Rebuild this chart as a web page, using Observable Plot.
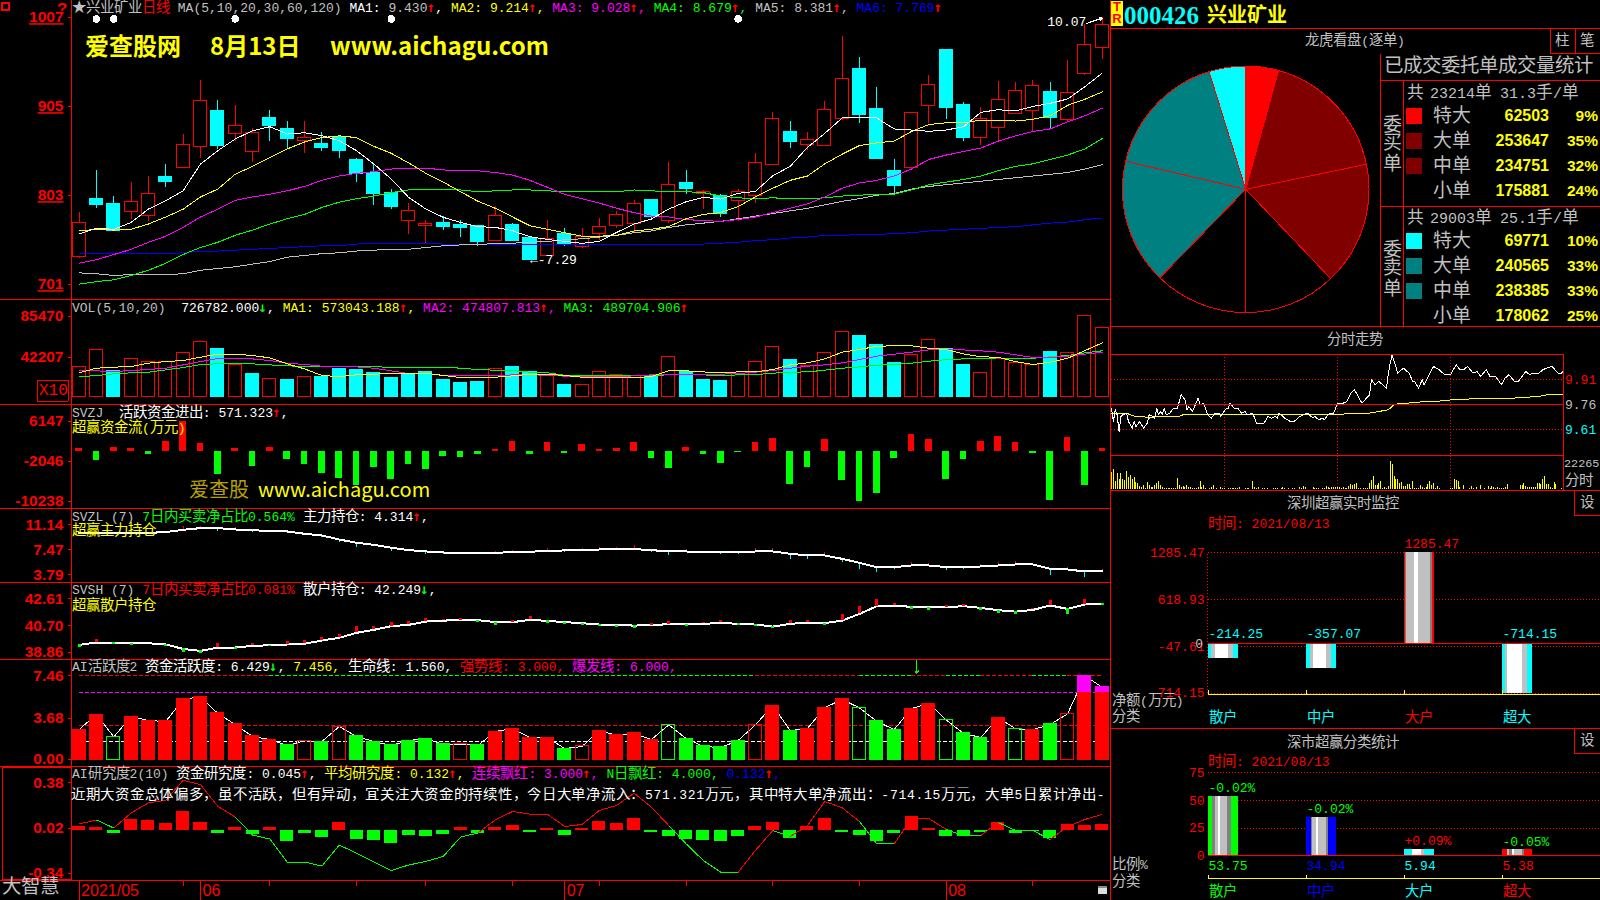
<!DOCTYPE html>
<html lang="zh">
<head>
<meta charset="utf-8">
<style>
@font-face{font-family:"CJKA";src:local("Noto Sans CJK SC"),local("Noto Sans CJK SC Regular");unicode-range:U+2605,U+2E80-9FFF,U+3000-303F,U+FF00-FFEF;size-adjust:111%}
html,body{margin:0;padding:0;background:#000;width:1600px;height:900px;overflow:hidden}
#stage{position:relative;width:1600px;height:900px;background:#000;overflow:hidden;font:13px "CJKA","Liberation Mono",monospace}
#stage svg{position:absolute;overflow:visible}
#stage svg *{shape-rendering:crispEdges}
.t{position:absolute;white-space:nowrap;line-height:1;transform:translateY(-50%);font-family:"CJKA","Liberation Mono",monospace}
.l{position:absolute;background:#f00}
.main g[aria-label="y-axis tick label"] text{text-decoration:underline;font:bold 15.5px "Liberation Sans"}
.lp g[aria-label="y-axis tick label"] text{font:bold 15.5px "Liberation Sans"}
.arw{display:inline-block;width:7.8px;margin-left:-1px;margin-right:1px;font:bold 14px/0 "DejaVu Sans Mono",monospace}
</style>
<script src="https://cdn.jsdelivr.net/npm/d3@7"></script>
<script src="https://cdn.jsdelivr.net/npm/@observablehq/plot@0.6"></script>
</head>
<body>
<div id="stage"></div>
<script>
// ---------- daily candles ----------
const opens =[7.32,7.99,7.93,7.84,7.79,8.24,8.34,8.58,9.00,8.73,8.53,8.91,8.79,8.65,8.62,8.70,8.43,8.29,8.05,7.74,7.68,7.71,7.69,7.68,7.51,7.69,7.54,7.33,7.59,7.44,7.59,7.68,7.70,7.97,7.73,8.17,8.04,8.02,7.96,8.02,8.38,8.75,8.61,8.59,8.90,9.48,9.02,8.31,8.34,9.05,9.69,9.06,8.68,8.80,8.96,8.99,9.21,8.89,9.42,9.72];
const highs =[7.83,8.31,8.01,8.18,8.25,8.38,8.72,9.34,9.11,9.06,8.80,9.00,8.88,8.87,8.75,8.71,8.45,8.38,8.10,7.93,7.74,7.79,7.74,7.68,7.90,7.70,7.55,7.74,7.65,7.65,7.76,7.84,7.97,7.98,8.41,8.31,8.08,8.04,8.10,8.51,8.98,8.88,8.75,9.10,9.85,9.61,9.27,8.44,8.97,9.40,9.69,9.09,9.04,9.33,9.32,9.35,9.32,9.57,9.99,10.07];
const lows  =[7.31,7.88,7.61,7.75,7.73,8.12,8.34,8.45,8.55,8.65,8.41,8.65,8.57,8.51,8.53,8.45,8.17,7.91,7.87,7.58,7.47,7.62,7.55,7.44,7.50,7.50,7.29,7.33,7.44,7.42,7.51,7.65,7.60,7.74,7.70,8.04,7.87,7.77,7.73,7.94,8.38,8.56,8.54,8.59,8.89,8.85,8.44,8.04,8.34,8.85,8.90,8.64,8.60,8.64,8.96,8.76,8.79,8.88,9.40,9.58];
const closes=[7.71,7.92,7.62,7.95,8.04,8.18,8.61,9.11,8.59,8.82,8.74,8.82,8.67,8.69,8.57,8.54,8.27,8.04,7.89,7.85,7.70,7.67,7.65,7.49,7.79,7.51,7.29,7.53,7.46,7.55,7.66,7.80,7.93,7.78,8.15,8.10,8.07,7.82,8.07,8.40,8.90,8.64,8.66,9.01,9.36,8.95,8.45,8.14,8.97,9.29,9.03,8.69,8.90,9.12,9.22,9.28,8.92,9.20,9.75,9.98];
const ma5  =[7.585,7.653,7.638,7.718,7.871,7.967,8.081,8.387,8.54,8.674,8.769,8.815,8.731,8.746,8.712,8.655,8.54,8.387,8.215,8.005,7.871,7.776,7.718,7.669,7.661,7.623,7.554,7.523,7.501,7.478,7.501,7.604,7.699,7.757,7.871,7.955,8.005,7.986,8.051,8.074,8.253,8.36,8.578,8.739,8.915,8.922,8.915,8.789,8.777,8.762,8.777,8.815,8.98,9.01,8.995,9.048,9.083,9.133,9.274,9.43];
const ma10 =[7.62,7.64,7.63,7.64,7.70,7.78,7.87,8.01,8.10,8.27,8.36,8.46,8.56,8.64,8.69,8.71,8.69,8.59,8.51,8.40,8.28,8.18,8.07,7.96,7.88,7.78,7.68,7.64,7.60,7.56,7.56,7.57,7.62,7.64,7.67,7.76,7.81,7.83,7.90,8.01,8.11,8.20,8.25,8.39,8.50,8.60,8.63,8.65,8.76,8.84,8.86,8.86,8.89,8.89,8.88,8.90,8.94,9.06,9.13,9.214];
const ma20 =[7.25,7.29,7.35,7.41,7.49,7.56,7.66,7.78,7.87,7.97,8.01,8.04,8.08,8.13,8.20,8.25,8.28,8.30,8.33,8.34,8.34,8.32,8.31,8.31,8.29,8.26,8.20,8.12,8.04,7.99,7.94,7.88,7.83,7.79,7.78,7.75,7.74,7.73,7.75,7.78,7.83,7.88,7.93,8.01,8.11,8.17,8.20,8.25,8.33,8.44,8.49,8.53,8.57,8.65,8.71,8.76,8.79,8.87,8.94,9.028];
const ma30 =[7.01,7.04,7.06,7.11,7.17,7.25,7.35,7.43,7.49,7.57,7.63,7.70,7.76,7.81,7.89,7.95,7.99,8.02,8.06,8.09,8.10,8.10,8.09,8.07,8.08,8.09,8.09,8.08,8.07,8.07,8.07,8.07,8.09,8.08,8.07,8.07,8.06,8.02,8.00,7.99,8.00,7.99,7.99,8.00,8.02,8.03,8.04,8.04,8.09,8.15,8.18,8.21,8.25,8.31,8.36,8.39,8.44,8.49,8.56,8.679];
const ma60 =[7.14,7.13,7.11,7.12,7.12,7.12,7.13,7.17,7.19,7.21,7.24,7.27,7.32,7.34,7.36,7.37,7.39,7.40,7.41,7.41,7.43,7.45,7.46,7.46,7.48,7.48,7.49,7.50,7.52,7.53,7.55,7.57,7.60,7.62,7.66,7.69,7.71,7.73,7.76,7.79,7.82,7.85,7.88,7.92,7.96,7.99,8.03,8.05,8.10,8.13,8.15,8.17,8.19,8.21,8.23,8.25,8.27,8.29,8.33,8.381];
const ma120=[7.36,7.36,7.36,7.36,7.36,7.36,7.37,7.39,7.39,7.40,7.41,7.42,7.43,7.44,7.45,7.45,7.47,7.48,7.48,7.48,7.48,7.47,7.47,7.47,7.47,7.47,7.47,7.46,7.46,7.46,7.46,7.46,7.46,7.46,7.46,7.47,7.47,7.48,7.49,7.51,7.52,7.54,7.55,7.57,7.57,7.58,7.58,7.59,7.60,7.62,7.63,7.64,7.65,7.66,7.67,7.69,7.71,7.72,7.75,7.769];
const eventBars=[1,2,9,18,38];
const eventPrice=10.05;
// ---------- volume (x10) ----------
const vol=[32000,49940,28140,40450,36930,37630,46780,58380,51350,34110,24970,19340,18640,21450,21100,30250,29190,25670,20750,23560,27080,18640,15470,16530,29890,32360,26380,23920,13360,13010,26730,23560,22860,22860,42560,27080,18640,17590,24970,37280,53110,39740,32710,46780,68930,65060,55570,36580,44670,60490,51000,34470,25670,40450,36230,34470,48180,46780,85470,72678];
const volColor="RRCRRRRRCRCRCRCCCCCCCCCCRCCRCRRRRCRCCCRRRCRRRCCCRRCCRRRRCRRR";
const vma5=[25700,30600,31700,32400,35900,37600,38700,42200,45400,45400,44000,41500,35200,29900,22900,21800,23600,24300,25000,25300,25300,22900,20800,20400,21100,22500,24300,24300,22900,21100,20800,20800,20400,21800,27800,27800,26700,25700,26700,26700,29200,34100,36200,40400,47500,50300,53800,54200,54200,51700,50300,45700,42600,42200,37600,34500,36900,41100,49200,57304];
const vma10=[28500,27800,27100,28100,29200,30600,34100,37600,40800,40800,40400,38700,35900,34500,32700,32700,32000,30600,27800,25000,25300,22900,22500,22900,22500,23600,23600,23200,22200,21500,21500,21800,22500,23600,24300,24300,24300,24300,25000,26400,28100,30600,32700,34100,36200,39700,43300,45400,47500,49900,50300,49900,48900,47500,44700,41900,41900,43300,45400,47481];
const vma20=[21500,22900,24600,25700,26400,28800,31300,34500,35200,35200,35200,34100,33100,32400,32000,32400,32700,32000,31700,31700,31700,31700,30600,29200,28500,28100,26400,25700,23200,22500,22500,22500,22500,22900,23600,23600,23600,22500,23600,23900,25300,26400,26700,28500,30600,32000,33800,34500,35900,38000,39700,40400,40400,41500,40400,41100,42600,44000,46800,48970];
// ---------- SVZJ ----------
const flow=[480,-1980,820,610,-610,2050,6147,1640,-4710,610,-3070,820,-1640,-2660,-4510,-5530,-6970,-3280,-5740,-2660,-3690,-1020,-1230,-610,410,2050,-610,1840,-410,1430,410,610,1840,-1430,-3480,820,-610,-2460,-205,1840,2660,-6760,-3280,2460,-5940,-10238,-8600,-1430,3480,2460,-5740,-1640,2050,3070,1840,-410,-10040,2870,-6970,571];
// ---------- SVZL / SVSH ----------
const svzl=[9.96,9.96,9.96,9.96,9.96,10.06,10.41,10.65,10.65,10.45,10.36,10.21,10.16,9.82,9.57,8.98,8.49,8.20,7.76,7.42,7.22,7.07,7.02,7.02,7.02,7.12,7.17,7.32,7.37,7.37,7.51,7.51,7.56,7.42,7.22,7.22,7.12,7.07,7.07,7.22,7.22,6.88,6.63,6.63,6.14,5.55,4.92,4.92,5.16,5.16,4.92,4.87,5.02,5.16,5.31,5.31,4.67,4.57,4.28,4.314];
const svzlDelta=[0,0,0,0,0,0,.5,.3,-.5,.3,-.3,0,0,-.3,-.3,-.5,-.7,-.3,-.5,-.2,-.5,-.3,-.3,-.3,.2,.3,-.3,.3,-.3,.3,.3,.3,.5,-.3,-.6,.3,0,-.3,-.3,.4,.5,-.8,-.6,.5,-.5,-1,-.8,-.3,.5,.3,-.5,-.3,.3,.5,.5,0,-1,.3,-.9,.2];
const svsh=[39.37,39.54,39.54,39.49,39.49,39.40,39.09,38.95,39.19,39.19,39.30,39.35,39.40,39.45,39.68,39.87,40.22,40.43,40.69,40.78,41.01,41.08,41.11,41.11,40.97,40.97,41.13,41.06,40.97,40.90,40.80,40.76,40.73,40.76,40.83,40.83,40.85,40.92,40.85,40.80,40.66,40.85,40.94,40.90,41.08,41.55,42.09,42.14,42.04,42.02,42.02,42.09,41.97,41.81,41.71,41.83,42.14,41.90,42.21,42.249];
const svshDelta=[-.15,.2,-.15,-.15,0,-.15,-.25,-.15,.25,-.15,.2,-.1,.2,.2,.2,.2,.45,.25,.25,.25,.25,.1,.1,-.15,-.2,.1,.25,-.2,-.15,-.2,-.15,-.15,-.2,.1,.2,-.2,.1,.2,-.15,-.15,-.15,.25,.15,-.15,.4,.5,.5,.15,-.15,-.2,.1,.15,-.2,-.2,-.2,.1,.35,-.4,.35,-.1];
// ---------- AI activity ----------
const active=[2.67,4.01,2.02,3.83,3.47,3.39,5.35,5.61,4.10,3.12,2.05,1.78,1.25,1.66,1.60,2.94,2.05,1.60,1.25,1.69,1.87,1.34,1.34,1.25,2.49,2.76,1.96,1.96,0.98,1.16,2.58,2.14,2.32,1.78,3.09,1.87,1.16,1.07,1.69,3.09,4.81,2.58,2.76,4.63,5.35,4.60,3.39,2.67,4.54,4.99,3.53,2.32,1.96,3.74,2.73,2.67,3.12,4.07,7.456,6.429];
const activeColor="RRGRRRRRRRRRGRGRGGGGGGRGRRRRGRRRRRGGGGGRRGRRRGGGRRGGGRGRGRRR";
const activeHollow=[2,13,15,22,29,34,39,45,50,54,57];
const topSegStart=[0,11,39,45,48,50,52,55,57];
const topSegEnd=[11,39,45,48,50,52,55,57,59];
const topSegColor=["#f00","#0f0","#f00","#0f0","#f00","#0f0","#f00","#0f0","#f00"];
const activeLevels=[6,3,1.56];
const activeLevelColors=["#f0f","#f00","#fff"];
// ---------- AI research ----------
const research=[.032,.024,-.024,.088,.080,.056,.151,.064,-.024,.024,-.032,.024,-.088,-.024,-.056,.064,-.072,-.080,-.104,-.040,-.048,-.032,.024,-.024,.024,.040,-.016,.016,-.040,.016,.072,.056,.096,-.016,-.048,-.072,-.080,-.088,-.048,.032,.064,-.064,.032,.096,-.016,-.040,-.088,-.024,.112,.016,-.048,-.048,-.016,.064,-.024,-.008,-.064,.048,.040,.045];
const researchAvg=[.052,.084,.02,.140,.220,.241,.400,.365,.193,.108,-.036,-.068,-.251,-.251,-.283,-.116,-.180,-.251,-.318,-.275,-.246,-.206,-.052,-.02,.085,.152,.130,.130,.032,.048,.160,.200,.298,.186,.040,-.106,-.239,-.332,-.332,-.159,0,-.048,.040,.231,.181,.072,-.106,-.106,.096,.096,.008,-.040,-.040,.064,0,0,-.072,.032,.088,.128];
const researchAvgColor="RRGRRRRRRRGGGGGGGGGGGGGGRRRRRRRRRRRGGGGRRGRRRRGGRRRGGRGGGRRR";
const monthBars=[0,7,28,50];
const monthLabels=["2021/05","06","07","08"];
const weekBars=[6,11,16,20,25,30,35,40,45,55];
// ---------- pie ----------
const buyNames=["特大","大单","中单","小单"];
const buyVals=[62503,253647,234751,175881];
const buyPct=["9%","35%","32%","24%"];
const buyColors=["#f00","#800000","#800000","#000"];
const sellVals=[69771,240565,238385,178062];
const sellPct=["10%","33%","33%","25%"];
const sellColors=["#0ff","#008080","#008080","#000"];
// ---------- intraday ----------
const intraMin=[0,1,2,3,4,5,6,8,9,11,12,13,15,17,19,20,22,23,24,25,26,27,28,29,31,33,35,37,39,40,41,43,46,47,49,51,53,55,57,58,61,62,63,65,67,69,71,72,75,77,81,83,85,87,88,89,92,95,97,100,104,107,108,110,112,113,115,116,118,119,120,123,125,127,129,131,133,137,138,140,142,146,147,148,149,152,155,158,160,161,163,165,166,169,171,174,177,180,183,185,187,189,192,194,196,199,201,204,207,209,211,214,216,220,222,224,227,229,231,234,237,239,240];
const intraPrice=[9.74,9.66,9.73,9.70,9.60,9.69,9.70,9.71,9.66,9.62,9.66,9.63,9.66,9.62,9.65,9.70,9.69,9.68,9.74,9.70,9.72,9.70,9.74,9.70,9.71,9.74,9.74,9.82,9.79,9.73,9.75,9.72,9.80,9.76,9.77,9.70,9.68,9.71,9.71,9.69,9.74,9.74,9.77,9.74,9.74,9.71,9.72,9.70,9.71,9.65,9.65,9.69,9.68,9.69,9.68,9.71,9.68,9.66,9.66,9.69,9.71,9.68,9.69,9.67,9.68,9.67,9.70,9.71,9.71,9.74,9.77,9.77,9.78,9.83,9.85,9.81,9.77,9.82,9.91,9.88,9.90,9.86,9.95,10.01,10.06,9.95,9.98,9.95,9.90,9.90,9.86,9.91,9.88,9.95,9.99,9.97,9.94,9.94,10.00,9.97,9.97,9.99,9.95,9.96,9.93,9.97,9.93,9.93,9.88,9.92,9.94,9.90,9.90,9.96,9.94,9.95,9.95,9.97,9.98,9.99,9.95,9.95,9.97];
const avgMin=[0,8,10,13,17,20,23,36,38,119,128,137,142,147,150,153,157,167,172,181,184,196,213,227,231,240];
const avgPrice=[9.71,9.71,9.70,9.69,9.69,9.68,9.69,9.69,9.70,9.70,9.71,9.71,9.72,9.73,9.76,9.77,9.77,9.78,9.78,9.79,9.79,9.80,9.80,9.81,9.82,9.82];
const intraVol=[114,132,53,103,70,103,66,59,121,77,95,66,79,48,44,20,18,31,9,48,31,18,18,26,44,55,26,15,11,7,7,7,7,11,7,73,26,18,22,18,26,13,15,9,7,9,13,57,13,26,11,2,7,13,26,4,7,2,18,9,9,4,7,7,7,9,7,7,13,2,4,7,9,9,4,55,18,7,13,4,7,7,4,7,4,4,7,11,7,2,11,13,7,4,7,2,7,7,2,4,18,9,22,13,2,2,0,18,7,9,7,4,7,7,20,15,7,13,15,18,
15,18,9,15,7,9,20,35,31,35,40,11,7,4,11,7,9,40,62,84,31,31,44,57,9,18,7,22,185,163,88,66,66,44,48,22,22,33,33,11,55,7,9,11,26,15,11,18,35,55,31,44,11,22,9,4,4,4,4,4,7,7,70,62,57,13,4,26,4,4,11,22,9,4,18,2,26,4,9,4,22,9,22,18,7,18,7,9,7,15,35,2,4,0,4,4,4,26,31,44,22,13,18,18,18,15,44,44,35,70,84,35,35,15,7,48,35,4,4,9,48];
const intraTicks=[9.91,9.61];
const intraHours=[60,120,180];
// ---------- SZ monitors ----------
const catsA=["散户","中户","大户","超大"];
const netVals=[-214.25,-357.07,1285.47,-714.15];
const netTicks=[1285.47,618.93,-47.61,-714.15];
const netCatColors=["#0ff","#0ff","#f00","#0ff"];
const netValColors=["#0ff","#0ff","#f00","#0ff"];
const netStripes=[
 [[0,8,"#0ff"],[8,21,"#c0c0c0"],[21,61,"#fff"],[61,76,"#c0c0c0"],[76,90,"#0ff"]],
 [[0,12,"#0ff"],[12,22,"#c0c0c0"],[22,60,"#fff"],[60,76,"#c0c0c0"],[76,90,"#0ff"]],
 [[0,3,"#f00"],[3,6,"#808080"],[6,30,"#c0c0c0"],[30,42,"#fff"],[42,78,"#c0c0c0"],[78,84,"#808080"],[84,90,"#f00"]],
 [[0,8,"#0ff"],[8,16,"#c0c0c0"],[16,60,"#fff"],[60,74,"#c0c0c0"],[74,90,"#0ff"]]];
const ratioVals=[53.75,34.94,5.94,5.38];
const ratioTicks=[75,50,25,0];
const ratioChange=["-0.02%","-0.02%","+0.09%","-0.05%"];
const ratioChangeColors=["#0f0","#0f0","#f00","#0f0"];
const ratioColors=["#0f0","#00f","#0ff","#f00"];
const ratioStripes=[
 [[0,12,"#0f0"],[12,21,"#808080"],[21,30,"#c0c0c0"],[30,36,"#fff"],[36,57,"#c0c0c0"],[57,69,"#808080"],[69,90,"#0f0"]],
 [[0,15,"#00f"],[15,18,"#808080"],[18,30,"#c0c0c0"],[30,36,"#fff"],[36,60,"#c0c0c0"],[60,66,"#808080"],[66,90,"#00f"]],
 [[0,24,"#0ff"],[24,51,"#fff"],[51,60,"#c0c0c0"],[60,90,"#0ff"]],
 [[0,15,"#f00"],[15,21,"#c0c0c0"],[21,30,"#808080"],[30,36,"#fff"],[36,60,"#c0c0c0"],[60,66,"#808080"],[66,90,"#f00"]]];
const commentary="近期大资金总体偏多\uFF0C虽不活跃\uFF0C但有异动\uFF0C宜关注大资金的持续性\uFF0C今日大单净流入\uFF1A571.321万元\uFF0C其中特大单净流出\uFF1A-714.15万元\uFF0C大单5日累计净出-";

// ---------- helpers ----------
const FONT='"CJKA","Liberation Mono",monospace';
const stage=document.getElementById("stage");
const G="#c0c0c0",R="#f00",W="#fff",Y="#ff0",M="#f0f",L="#0f0",B="#00f",C="#0ff";
function place(opts,left,top){
  const el=Plot.plot(Object.assign({marginLeft:0,marginRight:0,marginTop:0,marginBottom:0,color:{type:"identity"},
    style:{background:"transparent",fontFamily:FONT,fontSize:"14.5px",overflow:"visible"}},opts));
  el.style.left=left+"px";el.style.top=top+"px";
  stage.appendChild(el);return el;
}
function txt(x,y,segs,o={}){
  const d=document.createElement("div");d.className="t";
  d.style.left=x+"px";d.style.top=y+"px";
  if(o.size)d.style.fontSize=o.size+"px";
  if(o.bold)d.style.fontWeight="bold";
  if(o.font)d.style.fontFamily=o.font;
  if(o.center)d.style.transform="translate(-50%,-50%)";
  if(o.right)d.style.transform="translate(-100%,-50%)";
  if(o.spacing)d.style.letterSpacing=o.spacing+"px";
  if(o.clip){d.style.width=o.clip+"px";d.style.overflow="hidden";d.style.lineHeight="1.3";}
  if(typeof segs==="string")segs=[[segs,o.color||G]];
  for(const [t,c] of segs){
    const s=document.createElement("span");s.textContent=t;s.style.color=c;s.style.whiteSpace="pre";
    if(t==="↑"||t==="↓")s.className="arw";
    d.appendChild(s);
  }
  stage.appendChild(d);return d;
}
function hl(x1,x2,y,c,th){const d=document.createElement("div");d.className="l";d.style.cssText+=`left:${x1}px;top:${y}px;width:${x2-x1}px;height:${th||1}px;${c?"background:"+c:""}`;stage.appendChild(d);}
function vl(x,y1,y2,c,th){const d=document.createElement("div");d.className="l";d.style.cssText+=`left:${x}px;top:${y1}px;width:${th||1}px;height:${y2-y1}px;${c?"background:"+c:""}`;stage.appendChild(d);}

const HALF=.375, WFLOW=.19;
const rows=opens.map((o,i)=>({i,o,h:highs[i],l:lows[i],c:closes[i],up:closes[i]>=o,v:vol[i],vc:volColor[i]==="R"?R:C,vup:volColor[i]==="R"}));
const upC=d=>d.up?R:C;
const XS={domain:[0,59],range:[78.6,1101.8],axis:null};
const series=a=>a.map((v,i)=>({i,v}));
const yAxis=(ticks,fmt)=>Plot.axisY({ticks,tickFormat:fmt,anchor:"left",tickSize:3,tickPadding:5,color:R,label:null,fontSize:14.5});
const f2=d=>d.toFixed(2);
const thin={x:"i",y:"v",strokeWidth:1};

// main candle panel
place({className:"main",width:1110,height:299,marginLeft:71,x:XS,y:{domain:[7.01,10.07],range:[283.7,16.7],axis:null},marks:[
  yAxis([7.01,8.03,9.05,10.07],d=>String(Math.round(d*100))),
  Plot.ruleX(rows,{x:"i",y1:"l",y2:"h",stroke:upC}),
  Plot.rect(rows,{x1:d=>d.i-HALF,x2:d=>d.i+HALF,y1:"o",y2:"c",fill:d=>d.up?"#000":C,stroke:upC}),
  Plot.line(series(ma120),{...thin,stroke:B}),
  Plot.line(series(ma60),{...thin,stroke:G}),
  Plot.line(series(ma30),{...thin,stroke:L}),
  Plot.line(series(ma20),{...thin,stroke:M}),
  Plot.line(series(ma10),{...thin,stroke:Y}),
  Plot.line(series(ma5),{...thin,stroke:W}),
  Plot.dot(eventBars,{x:d=>d,y:()=>eventPrice,r:3,fill:W,stroke:W}),
  Plot.text([{i:26,p:7.29}],{x:"i",y:"p",text:()=>"←-7.29",textAnchor:"start",dx:0,fill:W,fontSize:13}),
  Plot.text([{i:59,p:10.07}],{x:"i",y:"p",text:()=>"10.07",textAnchor:"end",dx:-16,dy:5,fill:W,fontSize:13}),
  Plot.arrow([{}],{x1:()=>58.1,x2:()=>59,y1:()=>10.0,y2:()=>10.06,stroke:W,headLength:5,strokeWidth:1}),
]},0,0);

// volume panel
place({className:"lp",width:1110,height:105,marginLeft:71,x:XS,y:{domain:[0,85470],range:[97.7,16.7],axis:null},marks:[
  yAxis([42207,85470],d=>String(d)),
  Plot.rect(rows,{x1:d=>d.i-HALF,x2:d=>d.i+HALF,y1:()=>0,y2:"v",fill:d=>d.vup?"none":C,stroke:"vc"}),
  Plot.line(series(vma20),{...thin,stroke:L}),
  Plot.line(series(vma10),{...thin,stroke:M}),
  Plot.line(series(vma5),{...thin,stroke:Y}),
]},0,299);

// SVZJ
place({className:"lp",width:1110,height:104,marginLeft:71,x:XS,y:{domain:[-10238,6147],range:[96.7,16.7],axis:null},marks:[
  yAxis([6147,-2046,-10238],d=>String(d)),
  Plot.rect(series(flow),{x1:d=>d.i-WFLOW,x2:d=>d.i+WFLOW,y1:()=>0,y2:"v",fill:d=>d.v>=0?R:L}),
]},0,404);

// SVZL
const svzlRows=svzl.map((v,i)=>({i,v,e:v+svzlDelta[i]}));
place({className:"lp",width:1110,height:74,marginLeft:71,x:XS,y:{domain:[3.79,11.14],range:[66.3,16.3],axis:null},marks:[
  yAxis([11.14,7.47,3.79],f2),
  Plot.ruleX(svzlRows,{x:"i",y1:"v",y2:"e",stroke:d=>d.e>=d.v?R:C}),
  Plot.line(svzlRows,{x:"i",y:"v",stroke:W,strokeWidth:2}),
]},0,508);

// SVSH
const svshRows=svsh.map((v,i)=>({i,v,e:v+svshDelta[i]}));
place({className:"lp",width:1110,height:77,marginLeft:71,x:XS,y:{domain:[38.86,42.61],range:[69.7,16.3],axis:null},marks:[
  yAxis([42.61,40.70,38.86],f2),
  Plot.line(svshRows,{x:"i",y:"v",stroke:W,strokeWidth:2}),
  Plot.ruleX(svshRows,{x:"i",y1:"v",y2:"e",stroke:d=>d.e>=d.v?R:L,strokeWidth:3}),
]},0,582);

// AI activity
const actRows=active.map((v,i)=>({i,v,c:activeColor[i]==="R"?R:L,hollow:activeHollow.includes(i)}));
place({className:"lp",width:1110,height:107,marginLeft:71,x:XS,y:{domain:[0,7.46],range:[100,16.3],axis:null},marks:[
  yAxis([7.46,3.68,0],f2),
  Plot.ruleY(topSegStart.map((s,k)=>({s,e:topSegEnd[k],c:topSegColor[k]})),{y:()=>7.46,x1:"s",x2:"e",stroke:"c",strokeDasharray:"4,2"}),
  Plot.ruleY(activeLevels.map((l,k)=>({l,c:activeLevelColors[k]})),{y:"l",x1:()=>0,x2:()=>59,stroke:"c",strokeDasharray:"4,2"}),
  Plot.line(actRows,{x:"i",y:"v",stroke:W,strokeWidth:1}),
  Plot.rect(actRows,{x1:d=>d.i-HALF,x2:d=>d.i+HALF,y1:()=>0,y2:d=>Math.min(d.v,6),fill:d=>d.hollow?"none":d.c,stroke:"c"}),
  Plot.rect(actRows.filter(d=>d.v>6),{x1:d=>d.i-HALF,x2:d=>d.i+HALF,y1:()=>6,y2:"v",fill:M,stroke:M}),
  Plot.arrow([{}],{x1:()=>48.3,x2:()=>48.3,y1:()=>8.9,y2:()=>7.65,stroke:L,headLength:5,strokeWidth:1}),
]},0,659);

// AI research
const resSegs=researchAvg.slice(1).map((v,k)=>({a:k,b:k+1,p:researchAvg[k],q:v,c:researchAvgColor[k+1]==="R"?R:L}));
place({className:"lp",width:1110,height:114,marginLeft:71,x:XS,y:{domain:[-.34,.38],range:[106.7,16.3],axis:null},marks:[
  yAxis([.38,.02,-.34],f2),
  Plot.rect(series(research),{x1:d=>d.i-HALF,x2:d=>d.i+HALF,y1:()=>0,y2:"v",fill:d=>d.v>=0?R:L}),
  Plot.link(resSegs,{x1:"a",x2:"b",y1:"p",y2:"q",stroke:"c",strokeWidth:1}),
]},0,766);

// date strip
place({width:1110,height:20,marginLeft:71,x:XS,y:{domain:[0,1],range:[20,0],axis:null},marks:[
  Plot.ruleX(monthBars,{x:d=>d,y1:()=>0,y2:()=>1,stroke:R}),
  Plot.ruleX(weekBars,{x:d=>d,y1:()=>.72,y2:()=>1,stroke:R}),
  Plot.text(monthBars,{x:d=>d,y:()=>.5,text:(d,k)=>monthLabels[k],textAnchor:"start",dx:2,fill:R,fontSize:16,fontFamily:"Liberation Sans"}),
]},0,880);

// pie
const sliceVals=[...buyVals,...sellVals.slice().reverse()];
const sliceColors=[...buyColors,...sellColors.slice().reverse()];
place({width:269,height:272,marks:[
  ()=>{
    const arc=d3.arc().innerRadius(0).outerRadius(123.3);
    const g=d3.create("svg:g").attr("transform","translate(134.7,135.3)");
    g.selectAll("path").data(d3.pie().sort(null)(sliceVals)).join("path")
      .attr("d",arc).attr("fill",(d,k)=>sliceColors[k]).attr("stroke","#f00").attr("stroke-width",1);
    return g.node();
  }
]},1111,54);

// intraday price
place({width:452,height:136,x:{domain:[0,240],range:[0,452],axis:null},y:{domain:[9.61,9.91],range:[75.3,25.3],axis:null},marks:[
  Plot.ruleY(intraTicks,{y:d=>d,stroke:R,strokeDasharray:"1,2"}),
  Plot.ruleX(intraHours,{x:d=>d,y1:()=>10.06,y2:()=>9.25,stroke:R,strokeDasharray:"1,2"}),
  Plot.line(avgMin.map((m,k)=>({m,p:avgPrice[k]})),{x:"m",y:"p",stroke:Y,strokeWidth:1}),
  Plot.line(intraMin.map((m,k)=>({m,p:intraPrice[k]})),{x:"m",y:"p",stroke:W,strokeWidth:1}),
]},1111,354);
place({width:452,height:35,x:{domain:[0,240],range:[0,452],axis:null},y:{domain:[0,222.65],range:[34.3,0],axis:null},marks:[
  Plot.ruleX(intraVol,{x:(d,k)=>k,y1:()=>0,y2:d=>d,stroke:Y}),
]},1111,455);

// monitor bars
const stripeRows=(s,vals)=>s.flatMap((list,i)=>list.map(([a,b,c])=>({i,a,b,c,v:vals[i]})));
const BW=30/98/90;
place({width:500,height:238,marginLeft:108,marginBottom:33.7,x:{domain:[0,4],range:[108,500],axis:null},y:{domain:[-714.15,1285.47],range:[202.7,62.3],axis:null},marks:[
  Plot.ruleY(netTicks,{y:d=>d,stroke:R,strokeDasharray:"1,2"}),
  Plot.ruleX([-.015],{x:d=>d,y1:()=>-714.15,y2:()=>1285.47,stroke:R,strokeDasharray:"1,2"}),
  Plot.rect(stripeRows(netStripes,netVals),{x1:d=>d.i+d.a*BW,x2:d=>d.i+d.b*BW,y1:()=>0,y2:"v",fill:"c"}),
  Plot.ruleY([0],{stroke:R}),
  Plot.frame({anchor:"bottom",stroke:Y}),
  Plot.ruleX([0,1,2,3],{x:d=>d,y1:()=>-735,y2:()=>-680,stroke:Y}),
  Plot.axisY({ticks:netTicks,tickFormat:f2,anchor:"left",tickSize:0,tickPadding:4,color:R,label:null,fontSize:13}),
  Plot.text(netVals,{x:(d,k)=>k,y:d=>Math.max(d,0),text:d=>d.toFixed(2),textAnchor:"start",dy:-9,fill:(d,k)=>netValColors[k],fontSize:13}),
  Plot.text(catsA,{x:(d,k)=>k,frameAnchor:"bottom",text:d=>d,textAnchor:"start",dy:27,fill:(d,k)=>netCatColors[k],fontSize:13}),
]},1100,490);
place({width:500,height:172,marginLeft:108,marginBottom:21.7,x:{domain:[0,4],range:[108,500],axis:null},y:{domain:[0,75],range:[127.3,44.3],axis:null},marks:[
  Plot.ruleY([75,50,25],{y:d=>d,stroke:R,strokeDasharray:"1,2"}),
  Plot.rect(stripeRows(ratioStripes,ratioVals),{x1:d=>d.i+d.a*BW,x2:d=>d.i+d.b*BW,y1:()=>0,y2:"v",fill:"c"}),
  Plot.ruleY([0],{stroke:R}),
  Plot.frame({anchor:"bottom",stroke:Y}),
  Plot.ruleX([0,1,2,3],{x:d=>d,y1:()=>-21,y2:()=>-18,stroke:Y}),
  Plot.axisY({ticks:ratioTicks,tickFormat:d=>String(d),anchor:"left",tickSize:0,tickPadding:4,color:R,label:null,fontSize:13}),
  Plot.text(ratioVals,{x:(d,k)=>k,y:d=>d,text:(d,k)=>ratioChange[k],textAnchor:"start",dy:-8,fill:(d,k)=>ratioChangeColors[k],fontSize:13}),
  Plot.text(ratioVals,{x:(d,k)=>k,y:()=>0,text:d=>d.toFixed(2),textAnchor:"start",dy:10,fill:(d,k)=>ratioColors[k],fontSize:13}),
  Plot.text(catsA,{x:(d,k)=>k,frameAnchor:"bottom",text:d=>d,textAnchor:"start",dy:17,fill:(d,k)=>ratioColors[k],fontSize:13}),
]},1100,728);

// ---------- frame lines ----------
vl(71,0,880);
[299,404,508,582,659,766,880].forEach(y=>hl(0,1110,y));
vl(1110,0,900);
hl(1110,1600,28);hl(1380,1600,80);hl(1380,1600,206);hl(1110,1600,326);hl(1110,1600,490);hl(1110,1600,728);
vl(1380,54,326);vl(1403,80,326);
hl(1550,1600,53);vl(1550,28,53);vl(1575,28,53);
hl(1111,1563,354);hl(1111,1563,404);hl(1111,1563,455);vl(1563,354,490);
hl(1574,1600,515);vl(1574,490,515);hl(1574,1600,753);vl(1574,728,753);
hl(2,71,767);hl(2,71,879);vl(2,767,879);
hl(37,68,380);hl(37,68,401);vl(37,380,401);vl(68,380,401);

// ---------- text ----------
const d2=document.createElement("div");d2.style.cssText="position:absolute;left:1px;top:2px;width:5px;height:5px;border:2px solid #f00";stage.appendChild(d2);
txt(57,9,"?",{color:R,bold:true,size:17});
txt(72,8,[["★兴业矿业",G],["日线",R],[" MA(5,10,20,30,60,120) ",G],["MA1:",W],[" 9.430",G],["↑",R],[", ",W],["MA2: 9.214",Y],["↑",R],[", ",Y],["MA3: 9.028",M],["↑",R],[", ",M],["MA4: 8.679",L],["↑",R],[", ",L],["MA5: 8.381",G],["↑",R],[", ",G],["MA6: 7.769",B],["↑",R]]);
txt(85,45,"爱查股网",{color:Y,bold:true,size:24,font:'"Noto Sans CJK SC"'});
txt(210,45,"8月13日",{color:Y,bold:true,size:24,font:'"Noto Sans CJK SC"'});
txt(330,45,"www.aichagu.com",{color:Y,bold:true,size:24,font:'"Noto Sans CJK SC"'});
txt(72,308,[["VOL(5,10,20)",G],["  726782.000",W],["↓",L],[", ",W],["MA1: 573043.188",Y],["↑",R],[", ",Y],["MA2: 474807.813",M],["↑",R],[", ",M],["MA3: 489704.906",L],["↑",R]]);
txt(39,391,"X10",{color:R,size:16});
txt(72,413,[["SVZJ  ",G],["活跃资金进出: 571.323",W],["↑",R],[",",W]]);
txt(72,428,"超赢资金流(万元)",{color:Y});
txt(189,489,[["爱查股",'#b8a000']],{size:20,font:'"Noto Sans CJK SC"'});
txt(258,489,"www.aichagu.com",{color:Y,size:20,font:'"Noto Sans CJK SC"'});
txt(72,517,[["SVZL (7) ",G],["7日内买卖净占比0.564%",L],[" 主力持仓: 4.314",W],["↑",R],[",",W]]);
txt(72,531,"超赢主力持仓",{color:Y});
txt(72,590,[["SVSH (7) ",G],["7日内买卖净占比0.081%",R],[" 散户持仓: 42.249",W],["↓",L],[",",W]]);
txt(72,606,"超赢散户持仓",{color:Y});
txt(72,667,[["AI活跃度2 ",G],["资金活跃度: 6.429",W],["↓",L],[", ",W],["7.456, ",Y],["生命线: 1.560, ",W],["强势线: 3.000, ",R],["爆发线: 6.000,",M]]);
txt(72,774,[["AI研究度2(10) ",G],["资金研究度: 0.045",W],["↑",R],[", ",W],["平均研究度: 0.132",Y],["↑",R],[", ",Y],["连续飘红: 3.000",M],["↑",R],[", ",M],["N日飘红: 4.000, ",L],["0.132",B],["↑",R],[",",B]]);
txt(71,796,commentary,{color:W,clip:1038,spacing:.72});
txt(2,889,"大智慧",{color:G,size:17.5});

// right head
const tr=document.createElement("div");tr.style.cssText="position:absolute;left:1111px;top:1px;width:12px;height:25px;background:#ff0;color:#f00;font:bold 13px/12px 'Liberation Sans';text-align:center";tr.innerHTML="T<br>R";stage.appendChild(tr);
txt(1124,15,"000426",{color:C,bold:true,size:25,font:'"Liberation Serif"'});
txt(1207,14,"兴业矿业",{color:Y,bold:true,size:20,font:'"Noto Sans CJK SC"'});
txt(1355,41,"龙虎看盘(逐单)",{center:true});
txt(1562,41,"柱",{center:true});txt(1587,41,"笔",{center:true});
txt(1384,68,"已成交委托单成交量统计",{size:17.5});
const rowY1=[117,142,167,192],rowY2=[242,267,292,317];
[[92,"23214单","31.3手/单"],[217,"29003单","25.1手/单"]].forEach(([y,a,b])=>{
  txt(1407,y+2,"共",{size:15});txt(1430,y+2,a,{size:15});txt(1500,y+2,b,{size:15});
});
const VF='"Liberation Sans"';
buyNames.forEach((n,k)=>{
  [[rowY1,buyVals,buyPct,buyColors],[rowY2,sellVals,sellPct,sellColors]].forEach(([ys,vals,pct,cols])=>{
    if(k<3){const s=document.createElement("div");s.style.cssText=`position:absolute;left:1406px;top:${ys[k]-9}px;width:16px;height:16px;background:${cols[k]}`;stage.appendChild(s);}
    txt(1433,ys[k],n,{size:17});
    txt(1549,ys[k]-1,String(vals[k]),{color:Y,bold:true,size:16,right:true,font:VF});
    txt(1598,ys[k]-1,pct[k],{color:Y,bold:true,size:15.5,right:true,font:VF});
  });
});
["委","买","单"].forEach((c,k)=>txt(1392,[126,144,165][k],c,{size:17,center:true}));
["委","卖","单"].forEach((c,k)=>txt(1392,[251,269,290][k],c,{size:17,center:true}));
txt(1355,340,"分时走势",{center:true});
txt(1565,380,"9.91",{color:R});txt(1565,405,"9.76",{color:G});txt(1565,430,"9.61",{color:C});
txt(1564,465,"22265",{color:G,size:11.8});txt(1565,481,"分时",{color:G});
txt(1343,504,"深圳超赢实时监控",{center:true});
txt(1587,503,"设",{center:true});
txt(1208,524,[["时间: 2021/08/13",R]]);
txt(1203,644,"0",{right:true,color:G});
txt(1112,701,"净额(万元)");txt(1112,717,"分类");
txt(1343,743,"深市超赢分类统计",{center:true});
txt(1587,741,"设",{center:true});
txt(1208,762,[["时间: 2021/08/13",R]]);
txt(1112,865,"比例%");txt(1112,882,"分类");
const lock=document.createElement("div");lock.style.cssText="position:absolute;left:1098px;top:886px;width:9px;height:6px;background:#ddd;border-top:2px solid #888";stage.appendChild(lock);
</script>
</body>
</html>
